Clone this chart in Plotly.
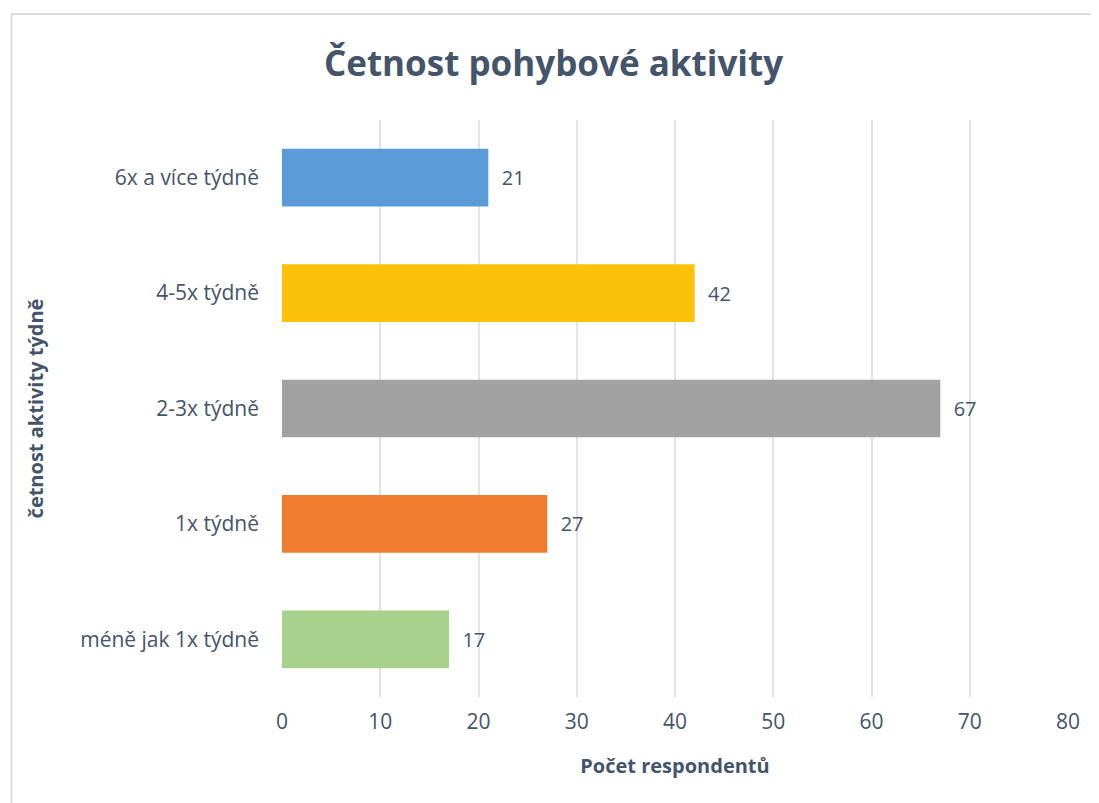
"""Četnost pohybové aktivity - horizontal bar chart."""

import plotly.graph_objects as go

categories = [
    "méně jak 1x týdně",
    "1x týdně",
    "2-3x týdně",
    "4-5x týdně",
    "6x a více týdně",
]
counts = [17, 27, 67, 42, 21]
bar_colors = ["#a9d18e", "#f07c2e", "#a2a2a2", "#fcc20a", "#5a9bd8"]
x_ticks = [0, 10, 20, 30, 40, 50, 60, 70, 80]

FONT = "'Open Sans', sans-serif"
TEXT = "#44546a"

fig = go.Figure()

fig.add_trace(go.Bar(
    y=categories, x=counts, orientation="h",
    marker=dict(color=bar_colors, line=dict(width=0)),
    width=0.5,
    text=counts, texttemplate="  %{x}", textposition="outside",
    textfont=dict(family=FONT, size=20, color=TEXT),
    cliponaxis=False,
    hoverinfo="x+y",
))

# outer chart frame
fig.add_shape(
    type="rect", xref="paper", yref="paper",
    x0=-0.344, x1=1.2, y0=-0.4, y1=1.1837,
    line=dict(color="#dadde2", width=2), layer="below",
)

# the page body adds an 8 px offset, so the figure is drawn 8 px smaller
fig.update_layout(
    width=1091, height=795,
    margin=dict(l=274, r=31, t=112, b=106),
    paper_bgcolor="white", plot_bgcolor="white",
    showlegend=False,
    title=dict(
        text="<b>Četnost pohybové aktivity</b>",
        x=0.5, xanchor="center", y=0.93, yanchor="middle",
        font=dict(family=FONT, size=35, color=TEXT),
    ),
    font=dict(family=FONT, color=TEXT),
)

fig.update_xaxes(
    range=[0, 80], tickvals=x_ticks,
    showgrid=True, gridcolor="#e0e3e8", gridwidth=2,
    zeroline=False, showline=False, ticks="",
    tickfont=dict(family=FONT, size=21, color=TEXT),
    ticklabelstandoff=10,
    title=dict(text="<b>Počet respondentů</b>", standoff=24,
               font=dict(family=FONT, size=20, color=TEXT)),
)
fig.update_yaxes(
    categoryorder="array", categoryarray=categories,
    showgrid=False, zeroline=False, showline=False, ticks="",
    tickfont=dict(family=FONT, size=21, color=TEXT),
    ticklabelstandoff=22,
    title=dict(text="<b>četnost aktivity týdně</b>", standoff=31,
               font=dict(family=FONT, size=20, color=TEXT)),
)

fig.write_html("out.html")
